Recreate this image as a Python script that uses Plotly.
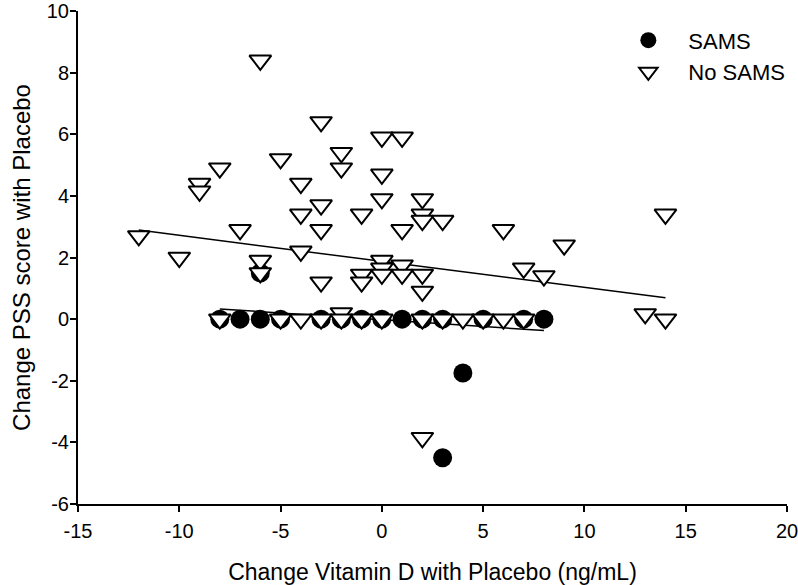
import plotly.graph_objects as go

# SAMS group (filled circles)
sams_x = [-8, -7, -6, -5, -3, -2, -1, 0, 1, 2, 3, 5, 7, 8, -6, 4, 3]
sams_y = [0, 0, 0, 0, 0, 0, 0, 0, 0, 0, 0, 0, 0, 0, 1.5, -1.75, -4.5]

# No SAMS group (open down-triangles)
nosams_x = [-12, -10, -9, -9, -8, -7, -6, -6, -6, -5, -4, -4, -4,
            -3, -3, -3, -3, -2, -2, -2, -1, -1, -1,
            0, 0, 0, 0, 0, 0, 1, 1, 1, 1,
            2, 2, 2, 2, 2, 2, 3, 6, 7, 8, 9, 13, 14, 14,
            -8, -5, -4, -3, -2, -1, 0, 2, 3, 4, 5, 6, 7]
nosams_y = [2.7, 2.0, 4.4, 4.15, 4.9, 2.9, 8.4, 1.9, 1.5, 5.2, 4.4, 3.4, 2.2,
            6.4, 3.7, 2.9, 1.2, 5.4, 4.9, 0.2, 3.4, 1.45, 1.2,
            5.9, 4.7, 3.9, 1.9, 1.65, 1.45, 5.9, 2.9, 1.75, 1.45,
            3.9, 3.4, 3.2, 1.45, 0.9, -3.85, 3.2, 2.9, 1.65, 1.4, 2.4, 0.17, 3.4, 0.0,
            0, 0, 0, 0, 0, 0, 0, 0, 0, 0, 0, 0, 0]

# Regression lines (endpoints)
nosams_fit_x = [-12, 14]
nosams_fit_y = [2.89, 0.69]
sams_fit_x = [-8, 8]
sams_fit_y = [0.33, -0.37]

x_ticks = [-15, -10, -5, 0, 5, 10, 15, 20]
x_tick_labels = ["-15", "-10", "-5", "0", "5", "10", "15", "20"]
y_ticks = [-6, -4, -2, 0, 2, 4, 6, 8, 10]
y_tick_labels = ["-6", "-4", "-2", "0", "2", "4", "6", "8", "10"]

FONT = "Arial, Liberation Sans, sans-serif"

fig = go.Figure()
fig.add_trace(go.Scatter(x=nosams_fit_x, y=nosams_fit_y, mode="lines",
                         line=dict(color="black", width=1.5), showlegend=False,
                         hoverinfo="skip"))
fig.add_trace(go.Scatter(x=sams_fit_x, y=sams_fit_y, mode="lines",
                         line=dict(color="black", width=1.5), showlegend=False,
                         hoverinfo="skip"))
fig.add_trace(go.Scatter(x=sams_x, y=sams_y, mode="markers", name="SAMS",
                         marker=dict(symbol="circle", size=19, color="black",
                                     line=dict(color="black", width=0))))
fig.add_trace(go.Scatter(x=nosams_x, y=nosams_y, mode="markers", name="No SAMS",
                         marker=dict(symbol="triangle-down", size=19, color="white",
                                     line=dict(color="black", width=2))))

axis_common = dict(showgrid=False, zeroline=False, showline=True, linecolor="black",
                   linewidth=2, ticks="outside", ticklen=6, tickwidth=1.5,
                   tickcolor="black", mirror=False, ticklabeloverflow="allow",
                   tickfont=dict(family=FONT, size=20, color="black"))

fig.update_xaxes(range=[-15, 20], tickvals=x_ticks, ticktext=x_tick_labels,
                 title=dict(text="Change Vitamin D with Placebo (ng/mL)",
                            font=dict(family=FONT, size=23, color="black"), standoff=26),
                 ticklabelstandoff=2,
                 **axis_common)
fig.update_yaxes(range=[-6, 10], tickvals=y_ticks, ticktext=y_tick_labels,
                 title=dict(text="Change PSS score with Placebo",
                            font=dict(family=FONT, size=24, color="black"), standoff=9),
                 ticklabelstandoff=-3,
                 **axis_common)

fig.update_layout(
    width=798, height=585,
    margin=dict(l=78, r=11, t=11, b=81, autoexpand=False),
    plot_bgcolor="white", paper_bgcolor="white",
    font=dict(family=FONT, color="black"),
    legend=dict(x=0.748, y=0.983, xanchor="left", yanchor="top",
                font=dict(family=FONT, size=22, color="black"),
                bgcolor="rgba(0,0,0,0)", itemwidth=70, tracegroupgap=0),
)

fig.write_html("out.html",
               config={"displayModeBar": False},
               post_script="document.body.style.margin='0';document.body.style.padding='0';")
